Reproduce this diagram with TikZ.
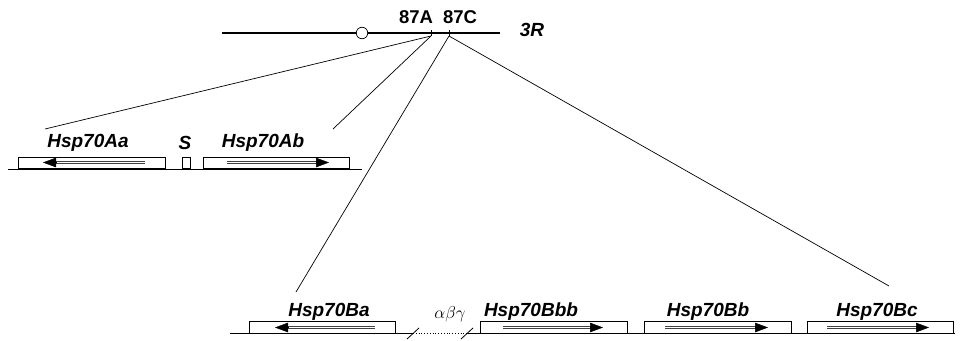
\documentclass[tikz,border=0pt]{standalone}
\usepackage{fontspec}
\setsansfont{Liberation Sans}
\usepackage{tikz}
\usetikzlibrary{calc,arrows.meta}

\begin{document}
\begin{tikzpicture}[x=1pt,y=-1pt,
  genebox/.style={draw,line width=.8pt,fill=white,minimum height=11.5pt,inner sep=0pt},
  genelbl/.style={font=\sffamily\bfseries\itshape\fontsize{19}{19}\selectfont,inner sep=0pt},
  bandlbl/.style={font=\sffamily\bfseries\fontsize{18.5}{18.5}\selectfont,inner sep=0pt},
  strand/.style={draw=black!75,double=white,double distance=1.3pt,line width=.6pt},
  strandtip/.style={-{Triangle[length=13pt,width=9.5pt]},line width=.5pt},
  zoomline/.style={line width=.7pt}]
\useasboundingbox (0,0) rectangle (961,340);
% chromosome arm
\draw[line width=1.1pt] (222,33) -- (500,33);
\node[draw,fill=white,circle,line width=.7pt,minimum size=11.5pt,inner sep=0pt] (centro) at (362,33) {};
\draw[line width=.9pt] (431,30) -- (431,36) coordinate (tickA);
\draw[line width=.9pt] (449,30) -- (449,36) coordinate (tickC);
\node[bandlbl] (bandA) at (416,17.5) {87A};
\node[bandlbl] (bandC) at (460,17.5) {87C};
\node[genelbl] (arm) at (532,30) {3R};
% 87A region
\draw[line width=.8pt] (8,169) -- (362,169);
\node[genebox,minimum width=147pt] (aa) at (91.5,163) {};
\node[genebox,minimum width=8pt] (s) at (186,163) {};
\node[genebox,minimum width=146pt] (ab) at (276,163) {};
\draw[strand] (145,162.5) -- (53,162.5);
\draw[strandtip] (56,162.5) -- (43,162.5);
\draw[strand] (227,162.5) -- (319,162.5);
\draw[strandtip] (316,162.5) -- (329,162.5);
\node[genelbl] (aalbl) at (88,143) {Hsp70Aa};
\node[genelbl] (slbl) at (185,143) {S};
\node[genelbl] (ablbl) at (263,143) {Hsp70Ab};
% 87C region
\draw[line width=.8pt] (230,333) -- (413,333);
\draw[line width=.8pt,dotted] (413,333) -- (467,333);
\draw[line width=.8pt] (467,333) -- (955,333);
\draw[line width=.8pt] (407,339) -- (419,328);
\draw[line width=.8pt] (461,339) -- (473,328);
\node[genebox,minimum width=146pt] (ba) at (322,327.5) {};
\node[genebox,minimum width=147pt] (bbb) at (553.5,327.5) {};
\node[genebox,minimum width=147pt] (bb) at (717.5,327.5) {};
\node[genebox,minimum width=146pt] (bc) at (880,327.5) {};
\draw[strand] (375,327.5) -- (285,327.5);
\draw[strandtip] (288,327.5) -- (275,327.5);
\draw[strand] (503,327.5) -- (593,327.5);
\draw[strandtip] (590,327.5) -- (603,327.5);
\draw[strand] (665,327.5) -- (758,327.5);
\draw[strandtip] (755,327.5) -- (768,327.5);
\draw[strand] (827,327.5) -- (919,327.5);
\draw[strandtip] (916,327.5) -- (929,327.5);
\node[genelbl] (balbl) at (329,312) {Hsp70Ba};
\node[font=\fontsize{18}{18}\selectfont,inner sep=0pt] (abg) at (450,314) {$\alpha\beta\gamma$};
\node[genelbl] (bbblbl) at (531,312) {Hsp70Bbb};
\node[genelbl] (bblbl) at (708,312) {Hsp70Bb};
\node[genelbl] (bclbl) at (877,312) {Hsp70Bc};
% zoom lines
\coordinate (aleft) at (45,129);
\coordinate (aright) at (333,129);
\coordinate (cleft) at (296,292);
\coordinate (cright) at (889,286);
\draw[zoomline] (tickA) -- (aleft);
\draw[zoomline] (tickA) -- (aright);
\draw[zoomline] (tickC) -- (cleft);
\draw[zoomline] (tickC) -- (cright);
\end{tikzpicture}
\end{document}
